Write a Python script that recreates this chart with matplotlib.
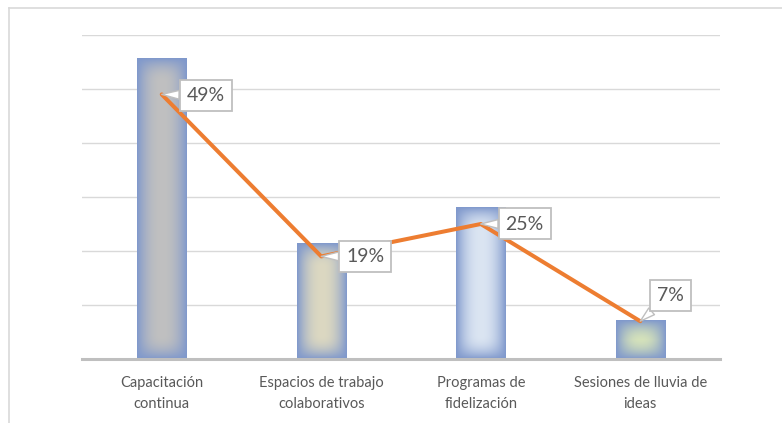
import numpy as np
import matplotlib.pyplot as plt
from matplotlib.colors import to_rgb
from matplotlib.lines import Line2D

categories = ["Capacitación\ncontinua", "Espacios de trabajo\ncolaborativos",
              "Programas de\nfidelización", "Sesiones de lluvia de\nideas"]
bar_values = [55.6, 21.3, 28.1, 7.2]
pct_values = [49, 19, 25, 7]
pct_labels = ["49%", "19%", "25%", "7%"]
center_colors = ["#c0c0c0", "#dcd8c1", "#dbe5f2", "#d7e4ba"]
edge_color = "#7f98cc"

plt.rcParams['font.family'] = ['Lato', 'DejaVu Sans']

fig = plt.figure(figsize=(7.82, 4.23), dpi=100)
ax = fig.add_axes([82/782, 1 - 359/423, 638/782, 324/423])

ymax = 60
bw = 0.31
px_x = 638 / 4.0
px_y = 324 / ymax


def gradient_bar(x, h, c_center):
    wpx = max(int(round(bw * px_x)), 2)
    hpx = max(int(round(h * px_y)), 2)
    X, Y = np.meshgrid(np.arange(wpx) + 0.5, np.arange(hpx) + 0.5)
    half = wpx / 2.0
    tx = np.abs(X - half) / half
    ty = 1 - np.clip(np.minimum(Y, hpx - Y) / half, 0, 1)
    t = 1 - (1 - tx ** 2.2) * (1 - ty ** 2.2)
    c0 = np.array(to_rgb(c_center))
    c1 = np.array(to_rgb(edge_color))
    img = c0[None, None, :] * (1 - t[..., None]) + c1[None, None, :] * t[..., None]
    ax.imshow(img, extent=(x - bw/2, x + bw/2, 0, h), aspect='auto',
              interpolation='bilinear', zorder=2, origin='lower')


xs = np.arange(len(categories))
for x, h, c in zip(xs, bar_values, center_colors):
    gradient_bar(x, h, c)

ax.set_xlim(-0.5, 3.5)
ax.set_ylim(0, ymax)

ax.plot(xs, pct_values, color="#ed7d31", lw=2.9, zorder=4,
        solid_capstyle='round', solid_joinstyle='round')

offsets = [(44, -1), (44, 0), (44, 0), (30, 26)]
for x, v, lab, off in zip(xs, pct_values, pct_labels, offsets):
    ax.annotate(lab, xy=(x, v), xytext=off, textcoords='offset pixels',
                ha='center', va='center', fontsize=14, color="#595959", zorder=6,
                bbox=dict(boxstyle='square,pad=0.36', fc='white', ec='#bfbfbf', lw=1.3),
                arrowprops=dict(arrowstyle='wedge,tail_width=0.45,shrink_factor=0.5',
                                fc='white', ec='#bfbfbf', lw=1.0, shrinkA=0, shrinkB=0))

ax.set_yticks(np.arange(0, ymax + 1, 10))
ax.yaxis.grid(True, color="#d9d9d9", lw=1)
ax.set_axisbelow(True)
ax.set_yticklabels([])
ax.tick_params(axis='y', length=0)
ax.set_xticks(xs)
ax.set_xticklabels(categories, fontsize=10.5, color="#595959", linespacing=1.7)
ax.tick_params(axis='x', length=0, pad=12)
for s in ['top', 'right', 'left']:
    ax.spines[s].set_visible(False)
ax.spines['bottom'].set_color('#bfbfbf')
ax.spines['bottom'].set_linewidth(2.2)
ax.spines['bottom'].set_zorder(3)

# chart frame (partly visible)
fig.add_artist(Line2D([9/782, 9/782], [0, 1 - 8/423], color="#d9d9d9", lw=1.2))
fig.add_artist(Line2D([9/782, 1], [1 - 8/423, 1 - 8/423], color="#d9d9d9", lw=1.2))

fig.savefig("out.png", dpi=100)
